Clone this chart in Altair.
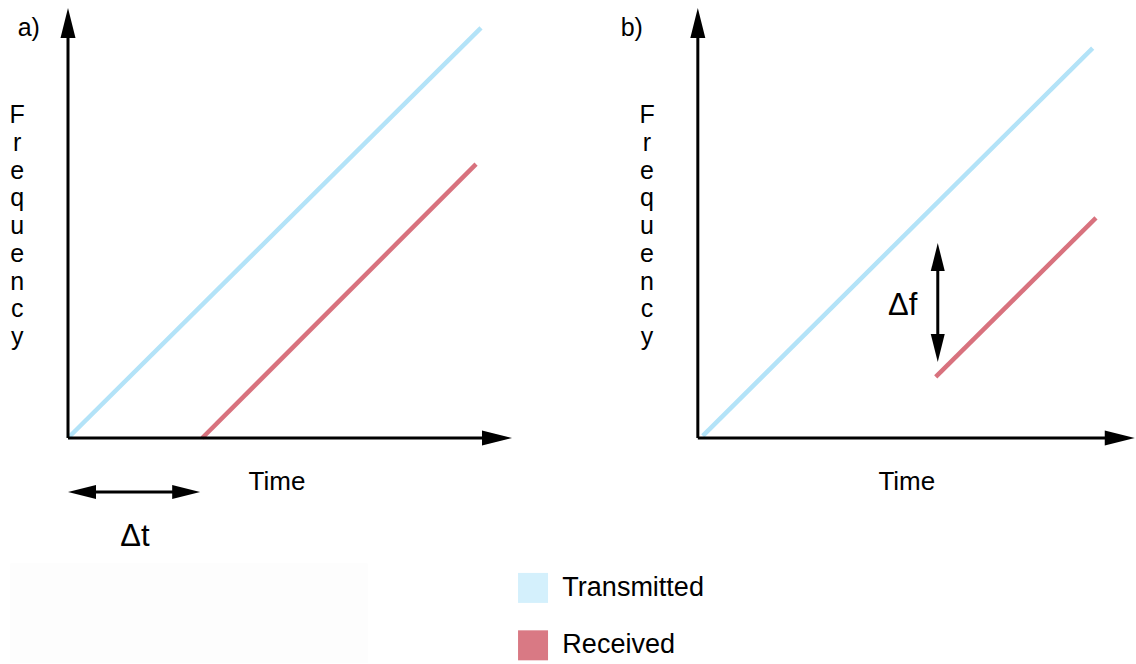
import altair as alt
import pandas as pd

# ---------------- data (diagram units: time / frequency) ----------------
series = ["Transmitted", "Received"]
line_colors = ["#b3e3f8", "#d8727e"]
legend_colors = ["#d4f0fc", "#d97984"]

panel_labels = ["a)", "b)"]
panel_offset = [0.0, 15.25]          # time offset of panel b origin

# panel a: transmitted chirp and delayed received chirp
a_tx_t = [0.0, 10.0]
a_tx_f = [0.0, 9.93]
a_rx_t = [3.25, 9.88]
a_rx_f = [0.0, 6.63]
# panel b: transmitted chirp and frequency-shifted received chirp
b_tx_t = [0.12, 9.56]
b_tx_f = [0.05, 9.44]
b_rx_t = [5.76, 9.64]
b_rx_f = [1.48, 5.33]

axis_time_len = [10.75, 10.58]
axis_freq_len = [10.41, 10.41]

delta_t = [0.0, 3.2]        # Δt arrow span (panel a), at f = -1.31
delta_f = [1.84, 4.72]      # Δf arrow span (panel b), at t = 5.81

# ---------------- scale set-up ----------------
K = 41.3                     # pixels per unit
W, H = 1136, 664
OX, OY = 68, 438             # panel a origin in pixels
xdom = [-OX / K, (W - OX) / K]
ydom = [-(H - OY) / K, OY / K]
xs = alt.Scale(domain=xdom, nice=False, zero=False)
ys = alt.Scale(domain=ydom, nice=False, zero=False)

# ---------------- tables ----------------
lines = []
for seg, (name, p, ts, fs) in enumerate([
    ("Transmitted", 0, a_tx_t, a_tx_f),
    ("Received", 0, a_rx_t, a_rx_f),
    ("Transmitted", 1, b_tx_t, b_tx_f),
    ("Received", 1, b_rx_t, b_rx_f),
]):
    for t, f in zip(ts, fs):
        lines.append({"seg": seg, "series": name, "x": panel_offset[p] + t, "y": f})
lines = pd.DataFrame(lines)

rules = []
heads = []
for p in range(2):
    o = panel_offset[p]
    rules.append({"x": o, "y": 0, "x2": o, "y2": axis_freq_len[p] - 0.3})
    rules.append({"x": o, "y": 0, "x2": o + axis_time_len[p] - 0.3, "y2": 0})
    heads.append({"x": o, "y": axis_freq_len[p], "angle": 0, "size": 900})
    heads.append({"x": o + axis_time_len[p], "y": 0, "angle": 90, "size": 900})
# Δt arrow
dty = -1.31
rules.append({"x": delta_t[0] + 0.3, "y": dty, "x2": delta_t[1] - 0.3, "y2": dty})
heads.append({"x": delta_t[0], "y": dty, "angle": 270, "size": 784})
heads.append({"x": delta_t[1], "y": dty, "angle": 90, "size": 784})
# Δf arrow
dfx = panel_offset[1] + 5.81
rules.append({"x": dfx, "y": delta_f[0] + 0.3, "x2": dfx, "y2": delta_f[1] - 0.3})
heads.append({"x": dfx, "y": delta_f[1], "angle": 0, "size": 784})
heads.append({"x": dfx, "y": delta_f[0], "angle": 180, "size": 784})
rules = pd.DataFrame(rules)
heads = pd.DataFrame(heads)

freq_label = "\n".join("Frequency")
texts = []
for p in range(2):
    o = panel_offset[p]
    texts.append({"x": o + [-0.95, -1.6][p], "y": 9.93, "text": panel_labels[p], "size": 25})
    texts.append({"x": o - 1.23, "y": 7.82, "text": freq_label, "size": 25})
    texts.append({"x": o + 5.06, "y": -1.07, "text": "Time", "size": 26})
texts.append({"x": 1.62, "y": -2.4, "text": "\u0394t", "size": 31})
texts.append({"x": panel_offset[1] + 4.96, "y": 3.2, "text": "\u0394f", "size": 31})
texts = pd.DataFrame(texts)

legend = pd.DataFrame({
    "series": series,
    "color": legend_colors,
    "x": [11.26, 11.26],
    "y": [-3.63, -5.02],
    "tx": [11.97, 11.97],
})

faint = pd.DataFrame({"x": [-1.4], "x2": [7.26], "y": [-3.03], "y2": [-5.45]})

# ---------------- layers ----------------
bg = alt.Chart(faint).mark_rect(color="#fdfdfd").encode(
    x=alt.X("x:Q", scale=xs, axis=None), x2="x2:Q",
    y=alt.Y("y:Q", scale=ys, axis=None), y2="y2:Q")

line_layer = alt.Chart(lines).mark_line(strokeWidth=4.5, strokeCap="butt").encode(
    x=alt.X("x:Q", scale=xs, axis=None),
    y=alt.Y("y:Q", scale=ys, axis=None),
    detail="seg:N",
    color=alt.Color("series:N", scale=alt.Scale(domain=series, range=line_colors), legend=None),
)

rule_layer = alt.Chart(rules).mark_rule(color="black", strokeWidth=3).encode(
    x=alt.X("x:Q", scale=xs, axis=None), x2="x2:Q",
    y=alt.Y("y:Q", scale=ys, axis=None), y2="y2:Q")

head_layer = alt.Chart(heads).mark_point(
    shape="M0,0L0.5,2L-0.5,2Z", filled=True, color="black", opacity=1, strokeWidth=0
).encode(
    x=alt.X("x:Q", scale=xs, axis=None),
    y=alt.Y("y:Q", scale=ys, axis=None),
    angle=alt.Angle("angle:Q", scale=None),
    size=alt.Size("size:Q", scale=None),
)

text_layer = alt.Chart(texts).mark_text(
    font="Liberation Sans", color="black", baseline="middle", align="center",
    lineBreak="\n", lineHeight=27.75,
).encode(
    x=alt.X("x:Q", scale=xs, axis=None),
    y=alt.Y("y:Q", scale=ys, axis=None),
    text="text:N",
    size=alt.Size("size:Q", scale=None),
)

legend_sq = alt.Chart(legend).mark_square(size=900, opacity=1, filled=True).encode(
    x=alt.X("x:Q", scale=xs, axis=None),
    y=alt.Y("y:Q", scale=ys, axis=None),
    color=alt.Color("color:N", scale=None),
)
legend_tx = alt.Chart(legend).mark_text(
    font="Liberation Sans", fontSize=27, align="left", baseline="middle", color="black"
).encode(
    x=alt.X("tx:Q", scale=xs, axis=None),
    y=alt.Y("y:Q", scale=ys, axis=None),
    text="series:N",
)

chart = alt.layer(bg, line_layer, rule_layer, head_layer, text_layer, legend_sq, legend_tx).resolve_scale(
    color="independent", size="independent"
).properties(
    width=W, height=H, padding=0, autosize=alt.AutoSizeParams(type="none"), background="white"
).configure_view(stroke=None)

chart.save("out.html", embed_options={"renderer": "svg", "actions": False})
